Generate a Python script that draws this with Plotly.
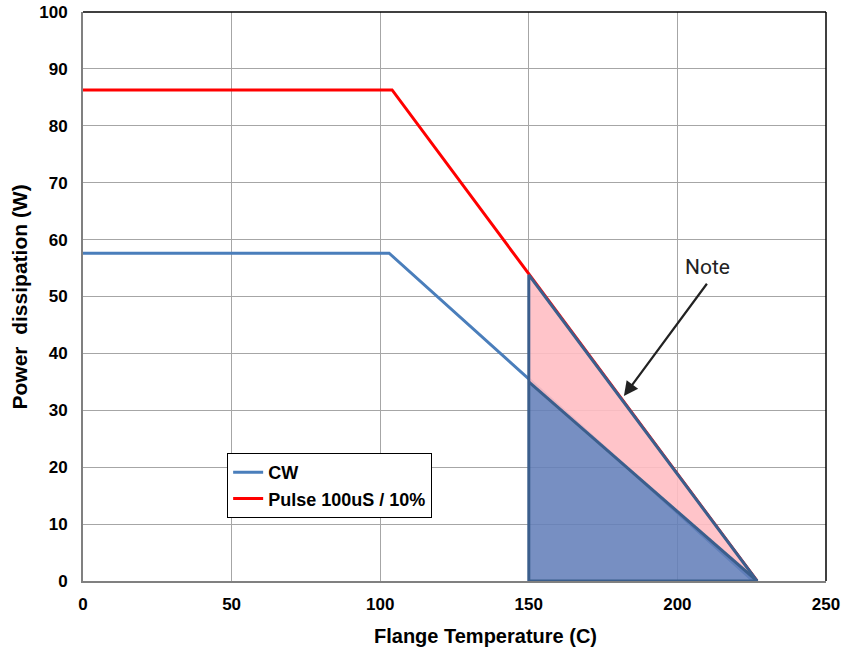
import plotly.graph_objects as go

cw_x = [0, 103, 225.5]
cw_y = [57.6, 57.6, 0]
pulse_x = [0, 104, 226.8]
pulse_y = [86.3, 86.3, 0]

# shaded "safe" region (from 150 C)
pink_x = [150, 150, 226.8, 150]
pink_y = [53.8, 35.0, 0, 53.8]
blue_x = [150, 150, 226.8, 150]
blue_y = [0, 35.0, 0, 0]
outline_x = [150, 150, 226.8, 150, None, 150, 226.8]
outline_y = [0, 53.8, 0, 0, None, 35.0, 0]

fig = go.Figure()
fig.add_trace(go.Scatter(x=cw_x, y=cw_y, mode="lines", name="CW",
                         line=dict(color="#4a7ebb", width=3)))
fig.add_trace(go.Scatter(x=pulse_x, y=pulse_y, mode="lines", name="Pulse 100uS / 10%",
                         line=dict(color="#ff0000", width=3)))
fig.add_trace(go.Scatter(x=pink_x, y=pink_y, mode="lines", fill="toself",
                         fillcolor="rgba(255,190,195,0.9)", line=dict(width=0),
                         showlegend=False, hoverinfo="skip"))
fig.add_trace(go.Scatter(x=blue_x, y=blue_y, mode="lines", fill="toself",
                         fillcolor="rgba(100,128,185,0.88)", line=dict(width=0),
                         showlegend=False, hoverinfo="skip"))
fig.add_trace(go.Scatter(x=outline_x, y=outline_y, mode="lines",
                         line=dict(color="#3b5e8c", width=3),
                         showlegend=False, hoverinfo="skip"))

fig.add_annotation(x=182, y=32.5, ax=210.3, ay=52.5, axref="x", ayref="y",
                   xref="x", yref="y", text="", showarrow=True,
                   arrowhead=2, arrowsize=1.3, arrowwidth=2.2, arrowcolor="#222222")
fig.add_annotation(x=210, y=55.2, xref="x", yref="y", text="Note", showarrow=False,
                   font=dict(family="Roboto, Liberation Sans, Arial", size=21, color="#222222"))

fig.add_annotation(x=0.542, y=-0.0967, xref="paper", yref="paper", text="Flange Temperature (C)",
                   showarrow=False, yanchor="middle",
                   font=dict(family="Liberation Sans, Arial", size=20, color="#000000", weight="bold"))
fig.add_annotation(x=-0.0848, y=0.5, xref="paper", yref="paper", text="Power  dissipation (W)",
                   showarrow=False, textangle=-90, xanchor="center",
                   font=dict(family="Liberation Sans, Arial", size=21, color="#000000", weight="bold"))

tick_font = dict(family="Liberation Sans, Arial", size=17, color="#000000", weight="bold")
fig.update_layout(
    width=846, height=654,
    margin=dict(l=83, r=20, t=12, b=73),
    paper_bgcolor="white", plot_bgcolor="white",
    showlegend=True,
    legend=dict(x=0.194, y=0.225, xanchor="left", yanchor="top",
                bordercolor="#000000", borderwidth=1, bgcolor="white",
                font=dict(family="Liberation Sans, Arial", size=18, color="#000000", weight="bold"),
                tracegroupgap=0, itemwidth=30),
    xaxis=dict(range=[0, 250], tickvals=[0, 50, 100, 150, 200, 250],
               showgrid=True, gridcolor="#a6a6a6", gridwidth=1,
               showline=True, linecolor="#808080", linewidth=2,
               zeroline=False, ticks="", automargin=False, ticklabelstandoff=7,
               ticklabeloverflow="allow", tickfont=tick_font),
    yaxis=dict(range=[0, 100], tickvals=list(range(0, 101, 10)),
               showgrid=True, gridcolor="#a6a6a6", gridwidth=1,
               showline=True, linecolor="#808080", linewidth=2,
               zeroline=False, ticks="", automargin=False, ticklabelstandoff=10,
               ticklabeloverflow="allow", tickfont=tick_font),
)
# top and right frame
fig.add_shape(type="line", xref="paper", yref="paper", x0=0, x1=1, y0=1, y1=1,
              line=dict(color="#000000", width=1.5))
fig.add_shape(type="line", xref="paper", yref="paper", x0=1, x1=1, y0=0, y1=1,
              line=dict(color="#000000", width=1.5))

fig.write_html("out.html", config={"displayModeBar": False},
               post_script="document.body.style.margin='0px';")
